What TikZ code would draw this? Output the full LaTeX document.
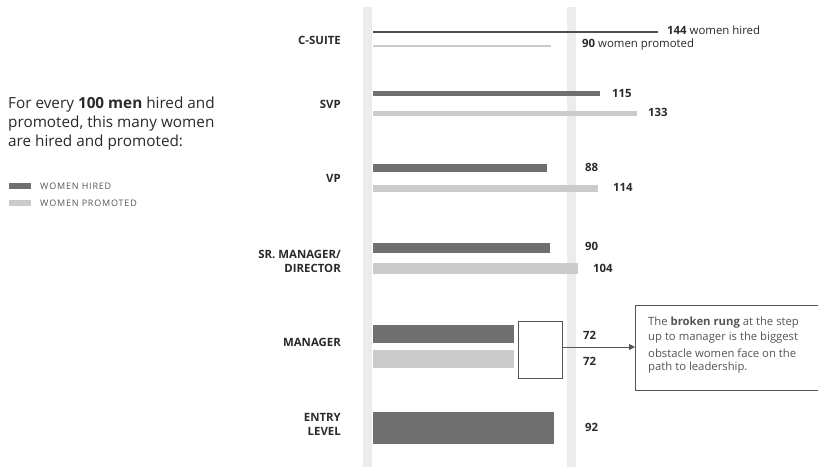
\documentclass[tikz,border=0pt]{standalone}
\usepackage{fontspec}
\setmainfont{Open Sans}
\usetikzlibrary{arrows.meta}
\definecolor{hiredc}{HTML}{6F6F6F}
\definecolor{promc}{HTML}{CBCBCB}
\definecolor{railc}{HTML}{ECECEC}
\definecolor{txtc}{HTML}{2A2A2A}
\definecolor{notec}{HTML}{555555}
\tikzset{
  hiredbar/.style={fill=hiredc},
  prombar/.style={fill=promc},
  lvl/.style={anchor=east, font=\fontsize{11.4}{14}\selectfont\bfseries, text=txtc, inner sep=0pt, align=right},
  val/.style={anchor=west, font=\fontsize{11.4}{12}\selectfont\bfseries, text=txtc, inner sep=0pt},
  lead/.style={anchor=west, font=\fontsize{15.3}{19}\selectfont, text=txtc, inner sep=0pt},
  legtxt/.style={anchor=west, font=\fontsize{9}{10}\selectfont\addfontfeature{LetterSpace=9}, text=notec, inner sep=0pt},
  notetxt/.style={anchor=west, font=\fontsize{11.3}{12}\selectfont, text=notec, inner sep=0pt},
}
\begin{document}
\begin{tikzpicture}[x=1pt,y=-1pt]
\useasboundingbox (0,0) rectangle (818,467);
\fill[white] (0,0) rectangle (818,467);
% rails
\fill[railc] (363,7) rectangle (372,467);
\fill[railc] (567,7) rectangle (576,467);
% lead text
\node[lead] (l1) at (8,105) {For every \textbf{100 men} hired and};
\node[lead] (l2) at (8,124) {promoted, this many women};
\node[lead] (l3) at (8,143) {are hired and promoted:};
% legend
\fill[hiredc] (9,183) rectangle (31,189);
\fill[promc] (9,200) rectangle (31,206);
\node[legtxt] (lg1) at (40,186) {WOMEN HIRED};
\node[legtxt] (lg2) at (40,203) {WOMEN PROMOTED};
% C-SUITE
\node[lvl] (cs) at (341,40) {C-SUITE};
\draw[hiredc!70!black, line width=1.2pt] (373,32) -- (658,32);
\draw[promc, line width=1.2pt] (373,46) -- (551,46);
\node[val] (cs1) at (667,30) {144 \mdseries women hired};
\node[val] (cs2) at (582,45) {90 \mdseries women promoted};
% SVP
\node[lvl] (svp) at (341,104) {SVP};
\fill[hiredbar] (373,91) rectangle (600,96);
\fill[prombar] (373,111) rectangle (637,116);
\node[val] (svp1) at (612,93) {115};
\node[val] (svp2) at (648,112) {133};
% VP
\node[lvl] (vp) at (341,178) {VP};
\fill[hiredbar] (373,164) rectangle (547,172);
\fill[prombar] (373,185) rectangle (598,192);
\node[val] (vp1) at (585,167) {88};
\node[val] (vp2) at (613,187) {114};
% SR MANAGER
\node[lvl] (sr) at (341,261) {SR. MANAGER/\\DIRECTOR};
\fill[hiredbar] (373,243) rectangle (550,253);
\fill[prombar] (373,263) rectangle (578,274);
\node[val] (sr1) at (585,246) {90};
\node[val] (sr2) at (593,268) {104};
% MANAGER
\node[lvl] (mg) at (341,342) {MANAGER};
\fill[hiredbar] (373,325) rectangle (514,343);
\fill[prombar] (373,350) rectangle (514,368);
\node[val] (mg1) at (583,335) {72};
\node[val] (mg2) at (583,361) {72};
\node[draw=notec, fill=white, line width=0.8pt, minimum width=44pt, minimum height=57pt, inner sep=0pt] (brk) at (540,349.5) {};
\node[draw=notec, line width=0.8pt, anchor=north west, minimum width=200pt, minimum height=85pt, inner sep=0pt] (note) at (635,305) {};
\draw[notec, line width=0.8pt, -{Triangle[length=6pt,width=6pt]}] (brk.east |- 0,347) -- (note.west |- 0,347);
\node[notetxt] (n1) at (648,323) {The \textbf{broken rung} at the step};
\node[notetxt] (n2) at (648,338) {up to manager is the biggest};
\node[notetxt] (n3) at (648,353) {obstacle women face on the};
\node[notetxt] (n4) at (648,368) {path to leadership.};
% ENTRY
\node[lvl] (en) at (341,424) {ENTRY\\LEVEL};
\fill[hiredbar] (373,412) rectangle (554,444);
\node[val] (en1) at (585,427) {92};
\end{tikzpicture}
\end{document}
